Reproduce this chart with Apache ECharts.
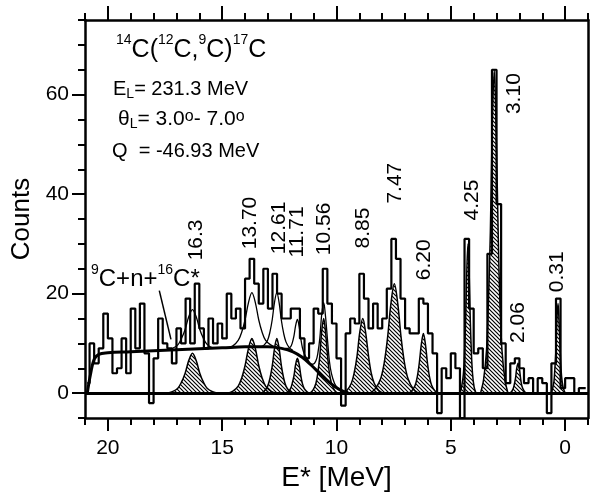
<!DOCTYPE html>
<html>
<head>
<meta charset="utf-8">
<script src="https://cdn.jsdelivr.net/npm/echarts@6/dist/echarts.min.js"></script>
<style>
  html, body { margin: 0; padding: 0; background: #fff; }
  #chart { width: 590px; height: 494px; }
</style>
</head>
<body>
<div id="chart"></div>
<script>
// histogram: bin centres (MeV) and counts
const binE = [
  20.9, 20.7, 20.5, 20.3, 20.1, 19.9, 19.7, 19.5, 19.3, 19.1,
  18.9, 18.7, 18.5, 18.3, 18.1, 17.9, 17.7, 17.5, 17.3, 17.1,
  16.9, 16.7, 16.5, 16.3, 16.1, 15.9, 15.7, 15.5, 15.3, 15.1,
  14.9, 14.7, 14.5, 14.3, 14.1, 13.9, 13.7, 13.5, 13.3, 13.1,
  12.9, 12.7, 12.5, 12.3, 12.1, 11.9, 11.7, 11.5, 11.3, 11.1,
  10.9, 10.7, 10.5, 10.3, 10.1, 9.9, 9.7, 9.5, 9.3, 9.1,
  8.9, 8.7, 8.5, 8.3, 8.1, 7.9, 7.7, 7.5, 7.3, 7.1,
  6.9, 6.7, 6.5, 6.3, 6.1, 5.9, 5.7, 5.5, 5.3, 5.1,
  4.9, 4.7, 4.5, 4.3, 4.1, 3.9, 3.7, 3.5, 3.3, 3.1,
  2.9, 2.7, 2.5, 2.3, 2.1, 1.9, 1.7, 1.5, 1.3, 1.1,
  0.9, 0.7, 0.5, 0.3, 0.1, -0.1, -0.3, -0.5, -0.7, -0.9
];
const counts = [
  2, 10, 6, 9, 16, 11, 4, 5, 11, 4,
  17, 9, 18, 8, -2, 7, 15, 10, 9, 6,
  13, 10, 19, 10, 22, 13, 9, 15, 10, 14,
  11, 20, 15, 17, 13, 23, 27, 22, 18, 25,
  17, 24, 20, 15, 15, 17, 17, 11, 7, 10,
  17, 16, 25, 18, 14, 7, -2.5, 12, 15, 14,
  24, 19, 13, 18, 13, 15, 21, 31, 27, 19,
  13, 12, 12, 19, 18, 12, 8, -4, 5, 3,
  8, 5, -5, 31, 17, 8, 9, 5, 28, 65,
  38, 10, 2, 6, 7, 5, 2, 3, 0, 3,
  2, -4, 6, 19, 1, 3, 3, 0, 1, 1
];

// 9C+n+16C* background
const background = [
  [20.9, 0], [20.75, 4], [20.6, 6.8], [20.4, 7.8], [20, 8.1], [19, 8.3], [18, 8.5],
  [17, 8.7], [16, 8.9], [15, 9.1], [14, 9.3], [13, 9.3], [12.4, 9.0], [11.9, 8.3],
  [11.5, 7.2], [11.1, 5.6], [10.7, 3.8], [10.3, 2.1], [9.9, 0.8], [9.5, 0]
];

// fitted peaks
const peak16_3 = [[17.42,0],[17.18,0.3],[16.94,1],[16.78,2.2],[16.62,4],[16.46,6.6],[16.3,8],[16.14,6.6],[15.98,4],[15.82,2.2],[15.66,1],[15.42,0.3],[15.18,0]];
const peak13_70 = [[14.75,0],[14.53,0.4],[14.3,1.4],[14.15,3],[14.0,5.5],[13.85,9],[13.7,11],[13.55,9],[13.4,5.5],[13.25,3],[13.1,1.4],[12.88,0.4],[12.65,0]];
const peak12_61 = [[13.31,0],[13.16,0.4],[13.01,1.4],[12.91,3],[12.81,5.5],[12.71,9],[12.61,11],[12.51,9],[12.41,5.5],[12.31,3],[12.21,1.4],[12.06,0.4],[11.91,0]];
const peak11_71 = [[12.24,0],[12.12,0.3],[12.01,0.9],[11.94,1.9],[11.86,3.5],[11.79,5.7],[11.71,7],[11.63,5.7],[11.56,3.5],[11.49,1.9],[11.41,0.9],[11.3,0.3],[11.19,0]];
const peak10_56 = [[11.16,0],[11.03,0.6],[10.9,2],[10.82,4],[10.73,7.5],[10.65,12.3],[10.56,15],[10.48,12.3],[10.39,7.5],[10.31,4],[10.22,2],[10.09,0.6],[9.96,0]];
const peak8_85 = [[9.73,0],[9.54,0.6],[9.35,2],[9.23,4],[9.1,7.5],[8.98,12.3],[8.85,15],[8.73,12.3],[8.6,7.5],[8.48,4],[8.35,2],[8.16,0.6],[7.98,0]];
const peak7_47 = [[8.52,0],[8.3,0.9],[8.07,2.9],[7.92,5.9],[7.77,11],[7.62,18],[7.47,22],[7.32,18],[7.17,11],[7.02,5.9],[6.87,2.9],[6.65,0.9],[6.42,0]];
const peak6_20 = [[6.83,0],[6.7,0.5],[6.56,1.6],[6.47,3.2],[6.38,6],[6.29,9.8],[6.2,12],[6.11,9.8],[6.02,6],[5.93,3.2],[5.84,1.6],[5.7,0.5],[5.57,0]];
const peak4_25 = [[4.6,0],[4.53,1.2],[4.45,3.9],[4.4,8.1],[4.35,15],[4.3,24.6],[4.25,30],[4.2,24.6],[4.15,15],[4.1,8.1],[4.05,3.9],[3.98,1.2],[3.9,0]];
const peak3_10 = [[3.7,0],[3.57,2.6],[3.44,8.5],[3.36,17.6],[3.27,32.5],[3.19,53.3],[3.1,65],[3.02,53.3],[2.93,32.5],[2.85,17.6],[2.76,8.5],[2.63,2.6],[2.5,0]];
const peak2_06 = [[2.45,0],[2.36,0.24],[2.28,0.8],[2.23,1.6],[2.17,3],[2.12,4.9],[2.06,6],[2.0,4.9],[1.95,3],[1.9,1.6],[1.84,0.8],[1.76,0.24],[1.68,0]];
const peak0_31 = [[0.63,0],[0.56,0.7],[0.49,2.3],[0.45,4.9],[0.4,9],[0.36,14.8],[0.31,18],[0.27,14.8],[0.22,9],[0.18,4.9],[0.13,2.3],[0.06,0.7],[-0.01,0]];
const peaks = [peak16_3, peak13_70, peak12_61, peak11_71, peak10_56, peak8_85, peak7_47, peak6_20, peak4_25, peak3_10, peak2_06, peak0_31];

// peak + background curves in the continuum region
const fit16_3 = [[17.42,8.7],[17.18,9.0],[16.94,9.7],[16.78,11],[16.62,12.8],[16.46,15.4],[16.3,16.8],[16.14,15.4],[15.98,12.8],[15.82,11],[15.66,9.8],[15.42,9.1],[15.18,9.0]];
const fit13_70 = [[14.75,9.1],[14.53,9.5],[14.3,10.6],[14.15,12.2],[14.0,14.7],[13.85,18.2],[13.7,20.2],[13.55,18.2],[13.4,14.7],[13.25,12.2],[13.1,10.6],[12.88,9.7],[12.65,9.2]];
const fit12_61 = [[13.31,9.3],[13.16,9.7],[13.01,10.7],[12.91,12.3],[12.81,14.8],[12.71,18.3],[12.61,20.2],[12.51,18.2],[12.41,14.6],[12.31,12],[12.21,10.3],[12.06,9.1],[11.91,8.6]];
const fit11_71 = [[12.24,9.0],[12.12,9.0],[12.01,9.3],[11.94,10.0],[11.86,11.5],[11.79,13.5],[11.71,14.8],[11.63,13.3],[11.56,10.9],[11.49,9.1],[11.41,7.9],[11.3,7.0],[11.19,6.3]];
const fit10_56 = [[11.16,5.8],[11.03,5.8],[10.9,6.5],[10.82,7.9],[10.73,11.0],[10.65,15.7],[10.56,18.2],[10.48,15.4],[10.39,10.5],[10.31,6.4],[10.22,3.9],[10.09,2.0],[9.96,1.0]];
const fits = [fit16_3, fit13_70, fit12_61, fit11_71, fit10_56];

// peak labels: text, label position [E, counts]
const peakLabels = ['16.3', '13.70', '12.61', '11.71', '10.56', '8.85', '7.47', '6.20', '4.25', '3.10', '2.06', '0.31'];
const peakLabelPos = [
  [16.15, 30.8], [13.78, 34.2], [12.51, 33.2], [11.72, 32.4], [10.54, 33], [8.84, 33.2],
  [7.44, 42.2], [6.17, 26.8], [4.07, 38.8], [2.23, 60.2], [2.06, 14.2], [0.35, 24.4]
];

const xMajor = [0, 5, 10, 15, 20];
const yMajor = [0, 20, 40, 60];

const F = 'Liberation Sans, Arial, sans-serif';

// hatch pattern for the fitted peaks
const hatch = document.createElement('canvas');
hatch.width = 4;
hatch.height = 4;
const hctx = hatch.getContext('2d');
hctx.strokeStyle = '#000';
hctx.lineWidth = 1.2;
hctx.beginPath();
hctx.moveTo(-1, -1); hctx.lineTo(5, 5);
hctx.moveTo(-1, 3); hctx.lineTo(1, 5);
hctx.moveTo(3, -1); hctx.lineTo(5, 1);
hctx.stroke();

const axisBase = {
    type: 'value',
    min: -1,
    max: 21,
    inverse: true,
    splitLine: { show: false },
    axisLine: { onZero: false, lineStyle: { color: '#000', width: 2.5 } }
};
const yBase = {
    type: 'value',
    min: -5,
    max: 75,
    interval: 5,
    splitLine: { show: false },
    axisLine: { onZero: false, lineStyle: { color: '#000', width: 2.5 } }
};

const txt = (size, extra) => Object.assign({ fontSize: size, fontFamily: F, color: '#000', fontWeight: 'normal' }, extra);

const series = [];

peaks.forEach((p) => {
    series.push({
        type: 'line',
        data: p,
        smooth: 0.35,
        symbol: 'none',
        z: 2,
        lineStyle: { color: '#000', width: 1.5 },
        areaStyle: { color: { image: hatch, repeat: 'repeat' }, opacity: 1 }
    });
});

fits.forEach((p) => {
    series.push({
        type: 'line',
        data: p,
        smooth: 0.35,
        symbol: 'none',
        z: 3,
        lineStyle: { color: '#000', width: 1.3 }
    });
});

series.push({
    name: 'background',
    type: 'line',
    data: background,
    smooth: 0.4,
    symbol: 'none',
    z: 4,
    lineStyle: { color: '#000', width: 3 },
    markLine: {
        silent: true,
        symbol: 'none',
        label: { show: false },
        lineStyle: { color: '#000', width: 1.5, type: 'solid' },
        data: [[{ coord: [17.75, 20.6] }, { coord: [17.24, 10.8] }]]
    }
});

series.push({
    name: 'spectrum',
    type: 'line',
    step: 'middle',
    data: binE.map((e, i) => [e, counts[i]]),
    symbol: 'none',
    z: 5,
    lineStyle: { color: '#000', width: 2.2 },
    markLine: {
        silent: true,
        symbol: 'none',
        label: { show: false },
        lineStyle: { color: '#000', width: 2.8, type: 'solid' },
        data: [{ yAxis: 0 }]
    }
});

series.push({
    type: 'scatter',
    symbolSize: 0,
    z: 6,
    itemStyle: { opacity: 1 },
    data: peakLabels.map((t, i) => ({ name: t, value: peakLabelPos[i] })),
    label: {
        show: true,
        position: 'inside',
        rotate: 90,
        formatter: '{b}',
        color: '#000',
        opacity: 1,
        fontFamily: F,
        fontSize: 21
    }
});

const option = {
    backgroundColor: '#fff',
    animation: false,
    grid: { left: 85, right: 2, top: 20, bottom: 76, containLabel: false, outerBoundsMode: 'none' },
    title: [
        {
            left: 116, top: 33, padding: 0,
            text: '{s|14}{b|C(}{s|12}{b|C,}{s|9}{b|C)}{s|17}{b|C}',
            textStyle: {
                rich: {
                    b: txt(25, { lineHeight: 30, verticalAlign: 'bottom' }),
                    s: txt(14, { lineHeight: 14, verticalAlign: 'top' })
                }
            }
        },
        {
            left: 113, top: 79, padding: 0,
            text: '{b|E}{u|L}{b|= 231.3 MeV}',
            textStyle: {
                rich: {
                    b: txt(20, { lineHeight: 22, verticalAlign: 'top' }),
                    u: txt(14, { lineHeight: 6, verticalAlign: 'bottom' })
                }
            }
        },
        {
            left: 118, top: 109, padding: 0,
            text: '{b|θ}{u|L}{b|= 3.0}{s|o}{b|- 7.0}{s|o}',
            textStyle: {
                rich: {
                    b: txt(21, { lineHeight: 22, verticalAlign: 'top' }),
                    u: txt(14, { lineHeight: 6, verticalAlign: 'bottom' }),
                    s: txt(16, { lineHeight: 12, verticalAlign: 'top' })
                }
            }
        },
        {
            left: 112, top: 141, padding: 0,
            text: 'Q  = -46.93 MeV',
            textStyle: txt(20)
        },
        {
            left: 91, top: 263, padding: 0,
            text: '{s|9}{b|C+n+}{s|16}{b|C*}',
            textStyle: {
                rich: {
                    b: txt(24, { lineHeight: 28, verticalAlign: 'bottom' }),
                    s: txt(14, { lineHeight: 14, verticalAlign: 'top' })
                }
            }
        }
    ],
    xAxis: [
        Object.assign({}, axisBase, {
            position: 'bottom',
            interval: 1,
            name: 'E* [MeV]',
            nameLocation: 'middle',
            nameGap: 43,
            nameTextStyle: txt(28),
            axisTick: { length: 7, lineStyle: { color: '#000', width: 2 } },
            axisLabel: { customValues: xMajor, fontSize: 21, fontFamily: F, color: '#000', margin: 20 }
        }),
        Object.assign({}, axisBase, {
            position: 'bottom',
            axisLine: { show: false, onZero: false },
            axisTick: { customValues: xMajor, length: 13, lineStyle: { color: '#000', width: 2 } },
            axisLabel: { show: false }
        }),
        Object.assign({}, axisBase, {
            position: 'top',
            interval: 1,
            axisTick: { length: 7, lineStyle: { color: '#000', width: 2 } },
            axisLabel: { show: false }
        }),
        Object.assign({}, axisBase, {
            position: 'top',
            axisLine: { show: false, onZero: false },
            axisTick: { customValues: xMajor, length: 14, lineStyle: { color: '#000', width: 2 } },
            axisLabel: { show: false }
        })
    ],
    yAxis: [
        Object.assign({}, yBase, {
            position: 'left',
            name: 'Counts',
            nameLocation: 'middle',
            nameGap: 50,
            nameTextStyle: txt(26),
            axisTick: { length: 7, lineStyle: { color: '#000', width: 2 } },
            axisLabel: { customValues: yMajor, fontSize: 21, fontFamily: F, color: '#000', margin: 16 }
        }),
        Object.assign({}, yBase, {
            position: 'left',
            axisLine: { show: false, onZero: false },
            axisTick: { customValues: yMajor, length: 13, lineStyle: { color: '#000', width: 2 } },
            axisLabel: { show: false }
        }),
        Object.assign({}, yBase, {
            position: 'right',
            axisTick: { show: false },
            axisLabel: { show: false }
        })
    ],
    series: series
};

const myChart = echarts.init(document.getElementById('chart'));
myChart.setOption(option);
</script>
</body>
</html>
